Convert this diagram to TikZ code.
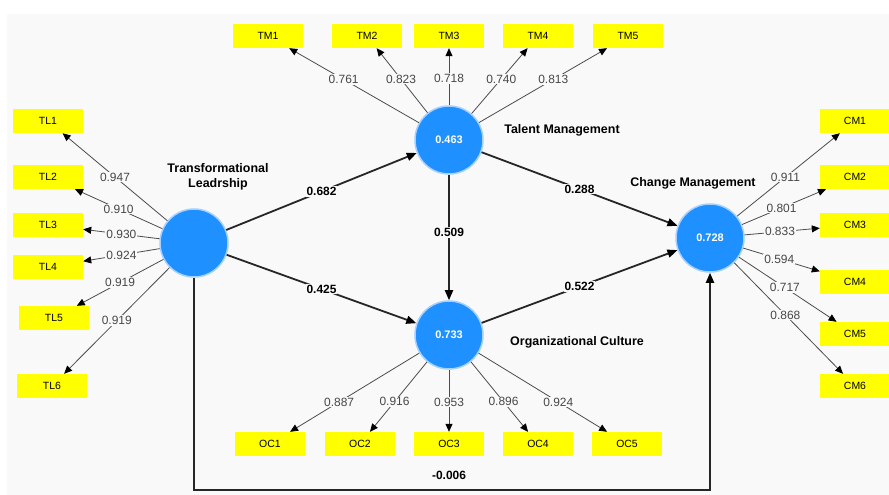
\documentclass[tikz,border=0pt]{standalone}
\usepackage{fontspec}
\setmainfont{Liberation Sans}
\usetikzlibrary{arrows.meta}
\definecolor{panelgray}{RGB}{249,249,249}
\definecolor{lvblue}{RGB}{30,144,255}
\definecolor{halo}{RGB}{165,208,255}
\definecolor{indyellow}{RGB}{255,255,0}
\begin{document}
\begin{tikzpicture}[x=1bp,y=-1bp,
    lv/.style={draw=halo,line width=1.5bp,fill=lvblue,circle,minimum size=68bp,inner sep=0pt,
      text=white,font=\fontsize{11}{12}\selectfont\bfseries},
    ind/.style={fill=indyellow,minimum width=70bp,minimum height=24bp,inner sep=0pt,
      font=\fontsize{10.5}{12}\selectfont},
    load/.style={draw=black!70,line width=0.8bp,-{Triangle[length=8bp,width=7bp,color=black]}},
    struct/.style={draw=black!85,line width=1.8bp,-{Triangle[length=10bp,width=8bp,color=black]}},
    lw/.style={fill=panelgray,inner sep=1bp,font=\fontsize{12}{13}\selectfont,text=black!72},
    pw/.style={fill=panelgray,inner sep=1bp,font=\fontsize{12}{13}\selectfont\bfseries},
    lvname/.style={font=\fontsize{12.5}{15}\selectfont\bfseries,align=center}]
    \useasboundingbox (0,0) rectangle (889,495);
    \fill[panelgray] (7,14) rectangle (889,495);
    %% latent variables
    \node[lv] (TL) at (194,243) {};
    \node[lv] (TM) at (449,140) {0.463};
    \node[lv] (OC) at (449,335) {0.733};
    \node[lv] (CM) at (710,238) {0.728};
    \node[lvname] (TLn) at (218,177) {Transformational\\Leadrship};
    \node[lvname] (TMn) at (562,130) {Talent Management};
    \node[lvname] (OCn) at (577,342) {Organizational Culture};
    \node[lvname] (CMn) at (693,183) {Change Management};
    %% indicators and loadings
    \foreach \k/\x/\y/\v in {1/48/121/0.947,2/48/177/0.910,3/48/225/0.930,
        4/48/267/0.924,5/54/318/0.919,6/52/386/0.919} {
        \node[ind] (TL\k) at (\x,\y) {TL\k};
        \draw[load] (TL) -- node[lw] {\v} (TL\k);
    }
    \foreach \k/\x/\v/\p in {1/268/0.761/0.58,2/367/0.823/0.52,3/449/0.718/0.47,
        4/538/0.740/0.53,5/628/0.813/0.58} {
        \node[ind] (TM\k) at (\x,36) {TM\k};
        \draw[load] (TM) -- node[lw,pos=\p] {\v} (TM\k);
    }
    \foreach \k/\x/\v/\p in {1/270/0.887/0.62,2/360/0.916/0.57,3/449/0.953/0.52,
        4/538/0.896/0.57,5/627/0.924/0.62} {
        \node[ind] (OC\k) at (\x,444) {OC\k};
        \draw[load] (OC) -- node[lw,pos=\p] {\v} (OC\k);
    }
    \foreach \k/\y/\v in {1/121/0.911,2/177/0.801,3/225/0.833,
        4/282/0.594,5/334/0.717,6/386/0.868} {
        \node[ind] (CM\k) at (855,\y) {CM\k};
        \draw[load] (CM) -- node[lw,pos=0.47] {\v} (CM\k);
    }
    %% paths
    \draw[struct] (TL) -- node[pw] {0.682} (TM);
    \draw[struct] (TL) -- node[pw] {0.425} (OC);
    \draw[struct] (TM) -- node[pw,pos=0.46] {0.509} (OC);
    \draw[struct] (TM) -- node[pw] {0.288} (CM);
    \draw[struct] (OC) -- node[pw] {0.522} (CM);
    \coordinate (low) at (449,490);
    \draw[struct] (TL) |- (low) node[pw,above=8bp] {-0.006} -| (CM);
\end{tikzpicture}
\end{document}
